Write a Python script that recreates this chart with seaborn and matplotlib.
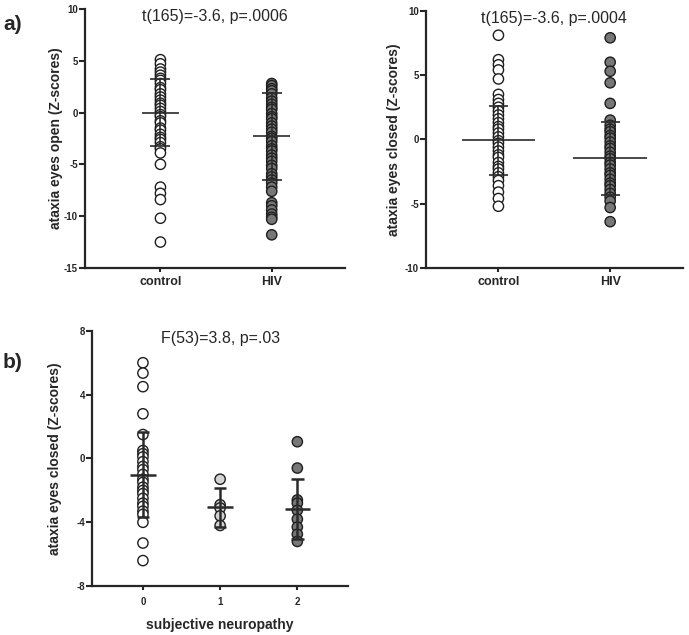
import matplotlib
matplotlib.use('Agg')
import matplotlib.pyplot as plt
import seaborn as sns
import pandas as pd

# ---- data ----
groups_a = ['control', 'HIV']
ctrl_open = [5.1, 4.7, 4.2, 3.9, 3.6, 3.3, 3.1, 2.8, 2.4, 2.2, 1.8, 1.5, 1.2, 0.9,
             0.7, 0.4, 0.1, -0.2, -0.4, -0.8, -1.0, -1.5, -1.7, -2.1, -2.4, -2.6,
             -2.9, -3.3, -3.5, -3.9, -5.0, -7.2, -7.8, -8.4, -10.2, -12.5]
hiv_open = [2.8, 2.6, 2.3, 2.1, 1.8, 1.4, 1.1, 0.8, 0.5, 0.3, -0.1, -0.4, -0.6,
            -1.0, -1.3, -1.6, -1.9, -2.3, -2.5, -2.8, -3.2, -3.5, -3.7, -4.1, -4.4,
            -4.7, -5.1, -5.4, -5.9, -6.2, -6.5, -6.8, -7.2, -7.6, -8.7, -9.0, -9.4,
            -9.8, -10.1, -10.3, -11.8]
mean_open = [0.0, -2.3]
sd_open = [3.2, 4.2]

ctrl_closed = [8.1, 6.2, 5.8, 5.4, 4.7, 3.5, 3.1, 2.8, 2.5, 2.2, 1.9, 1.6, 1.3, 1.0,
               0.8, 0.5, 0.2, -0.1, -0.3, -0.6, -0.9, -1.2, -1.4, -1.8, -2.1, -2.3,
               -2.6, -2.9, -3.2, -3.6, -4.1, -4.6, -5.2]
hiv_closed = [7.9, 6.0, 5.3, 4.4, 2.8, 1.5, 1.1, 0.8, 0.6, 0.3, 0.1, -0.2, -0.5,
              -0.7, -1.0, -1.3, -1.5, -1.8, -2.0, -2.3, -2.6, -2.8, -3.1, -3.4,
              -3.6, -3.9, -4.2, -4.5, -4.8, -5.3, -6.4]
mean_closed = [-0.08, -1.47]
sd_closed = [2.67, 2.85]

groups_b = ['0', '1', '2']
neuro0 = [6.0, 5.35, 4.5, 2.8, 1.5, 0.5, 0.3, 0.1, -0.2, -0.5, -0.7, -1.0, -1.3,
          -1.5, -1.8, -2.0, -2.2, -2.5, -2.8, -3.0, -3.3, -3.5, -4.0, -5.3, -6.4]
neuro1 = [-1.3, -2.9, -3.1, -3.6, -4.2]
neuro2 = [1.05, -0.6, -2.6, -2.8, -3.25, -3.8, -4.3, -4.75, -5.2]
mean_b = [-1.02, -3.05, -3.15]
sd_b = [2.65, 1.22, 1.88]

WHITE, DARK, LIGHT = '#ffffff', '#777777', '#d4d4d4'
EDGE = '#1e1e1e'
LINE = '#2a2a2a'

sns.set_style('ticks')
plt.rcParams['font.family'] = ['Liberation Sans', 'DejaVu Sans']
plt.rcParams['axes.linewidth'] = 1.6


def panel(ax, names, values, colors, means, sds, ylim, yticks, title,
          ylabel, mean_w, cap_w, lw, labcoord, xlim):
    df = pd.DataFrame({
        'group': [n for n, v in zip(names, values) for _ in v],
        'z': [x for v in values for x in v],
    })
    sns.stripplot(data=df, x='group', y='z', hue='group', order=names,
                  palette=dict(zip(names, colors)), jitter=False, size=7.4,
                  edgecolor=EDGE, linewidth=1.0, legend=False, ax=ax, zorder=2)
    for i, (m, s) in enumerate(zip(means, sds)):
        ax.hlines(m, i - mean_w / 2, i + mean_w / 2, color=LINE, lw=lw, zorder=3)
        ax.hlines([m - s, m + s], i - cap_w / 2, i + cap_w / 2, color=LINE, lw=lw, zorder=3)
        ax.vlines(i, m - s, m + s, color=LINE, lw=lw, zorder=3)
    ax.set_ylim(*ylim)
    ax.set_xlim(*xlim)
    ax.set_yticks(yticks)
    ax.set_yticklabels([str(t) for t in yticks], fontsize=7, fontweight='bold')
    ax.set_xticks(range(len(names)))
    ax.set_xticklabels(names, fontweight='bold')
    ax.set_ylabel(ylabel, fontsize=10, fontweight='bold')
    ax.yaxis.set_label_coords(labcoord, 0.5)
    ax.set_xlabel('')
    ax.tick_params(axis='y', length=4, width=1.5, pad=1)
    ax.tick_params(axis='x', length=3, width=1.5)
    ax.text(0.5, 0.969, title, transform=ax.transAxes, ha='center', va='center',
            fontsize=11.5)
    sns.despine(ax=ax)


fig = plt.figure(figsize=(6.89, 6.35), dpi=100)

ax1 = fig.add_axes([0.123, 0.578, 0.378, 0.408])
panel(ax1, groups_a, [ctrl_open, hiv_open], [WHITE, DARK], mean_open, sd_open,
      (-15, 10), [-15, -10, -5, 0, 5, 10], 't(165)=-3.6, p=.0006',
      'ataxia eyes open (Z-scores)', 0.33, 0.18, 1.2, -0.085, (-0.68, 1.66))
ax1.tick_params(axis='x', labelsize=9, pad=3)

ax2 = fig.add_axes([0.618, 0.578, 0.373, 0.405])
panel(ax2, groups_a, [ctrl_closed, hiv_closed], [WHITE, DARK], mean_closed, sd_closed,
      (-10, 10), [-10, -5, 0, 5, 10], 't(165)=-3.6, p=.0004',
      'ataxia eyes closed (Z-scores)', 0.66, 0.17, 1.2, -0.097, (-0.65, 1.65))
ax2.tick_params(axis='x', labelsize=9, pad=3)

ax3 = fig.add_axes([0.1335, 0.077, 0.372, 0.402])
panel(ax3, groups_b, [neuro0, neuro1, neuro2], [WHITE, LIGHT, DARK], mean_b, sd_b,
      (-8, 8), [-8, -4, 0, 4, 8], 'F(53)=3.8, p=.03',
      'ataxia eyes closed (Z-scores)', 0.33, 0.16, 1.8, -0.117, (-0.66, 2.66))
ax3.tick_params(axis='x', labelsize=7, pad=5)
ax3.set_xlabel('subjective neuropathy', fontsize=10, fontweight='bold')
ax3.xaxis.set_label_coords(0.5, -0.125)

fig.text(13 / 689, 1 - 24 / 635, 'a)', fontsize=15, fontweight='bold',
         ha='center', va='center')
fig.text(13 / 689, 1 - 363 / 635, 'b)', fontsize=15, fontweight='bold',
         ha='center', va='center')

fig.savefig('out.png', dpi=100, facecolor='white')
